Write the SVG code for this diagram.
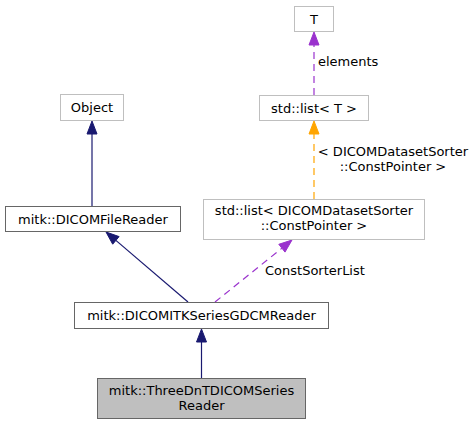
<svg xmlns="http://www.w3.org/2000/svg" width="474" height="425" viewBox="0 0 474 425">
<style>
text{font-family:"DejaVu Sans",sans-serif;font-size:13px;fill:#000}
.m{text-anchor:middle}
.doc{fill:#fff;stroke:#666}
.und{fill:#fff;stroke:#bfbfbf}
.cur{fill:#bfbfbf;stroke:#666}
.nv{stroke:#191970;fill:none;stroke-width:1.2}
.nvh{fill:#191970;stroke:#191970}
.pu{stroke:#9a32cd;fill:none;stroke-width:1.2;stroke-dasharray:7,5}
.puh{fill:#9a32cd;stroke:#9a32cd}
.or{stroke:#ffa500;fill:none;stroke-width:1.2;stroke-dasharray:7,5}
.orh{fill:#ffa500;stroke:#ffa500}
</style>
<rect width="474" height="425" fill="#fff"/>
<g id="connectors">
<line class="nv" x1="92" y1="206" x2="92" y2="134"/>
<polygon class="nvh" points="92,121 87,134 97,134"/>
<line class="nv" x1="188" y1="302" x2="115.9" y2="240.4"/>
<polygon class="nvh" points="106,232 112.7,244.2 119.1,236.6"/>
<line class="nv" x1="201.5" y1="378" x2="201.5" y2="342"/>
<polygon class="nvh" points="201.5,329 196.5,342 206.5,342"/>
<line class="pu" x1="215" y1="302" x2="281.9" y2="248.2"/>
<polygon class="puh" points="292,240 285,252.1 278.8,244.3"/>
<text x="265" y="275">ConstSorterList</text>
<line class="or" x1="314" y1="199" x2="314" y2="134"/>
<polygon class="orh" points="314,121 309,134 319,134"/>
<text class="m" x="393" y="156">&lt; DICOMDatasetSorter</text>
<text class="m" x="393" y="171">::ConstPointer &gt;</text>
<line class="pu" x1="314" y1="95" x2="314" y2="45"/>
<polygon class="puh" points="314,32 309,45 319,45"/>
<text x="318" y="66">elements</text>
</g>
<g id="node-object">
<rect class="und" x="60.5" y="94.5" width="63" height="26"/>
<text class="m" x="92" y="112">Object</text>
</g>
<g id="node-filereader">
<rect class="doc" x="5.5" y="206.5" width="175" height="25"/>
<text class="m" x="93" y="223.5">mitk::DICOMFileReader</text>
</g>
<g id="node-T">
<rect class="und" x="294.5" y="6.5" width="39" height="25"/>
<text class="m" x="314" y="23.5">T</text>
</g>
<g id="node-listT">
<rect class="und" x="259.5" y="95.5" width="109" height="25"/>
<text class="m" x="314" y="112.5">std::list&lt; T &gt;</text>
</g>
<g id="node-listsorter">
<rect class="und" x="203.5" y="199.5" width="221" height="40"/>
<text class="m" x="314" y="215">std::list&lt; DICOMDatasetSorter</text>
<text class="m" x="314" y="230">::ConstPointer &gt;</text>
</g>
<g id="node-gdcm">
<rect class="doc" x="74.5" y="302.5" width="254" height="26"/>
<text class="m" x="201.5" y="320">mitk::DICOMITKSeriesGDCMReader</text>
</g>
<g id="node-threednt">
<rect class="cur" x="97.5" y="378.5" width="208" height="40"/>
<text class="m" x="201.5" y="394.5">mitk::ThreeDnTDICOMSeries</text>
<text class="m" x="201.5" y="409.5">Reader</text>
</g>
</svg>
